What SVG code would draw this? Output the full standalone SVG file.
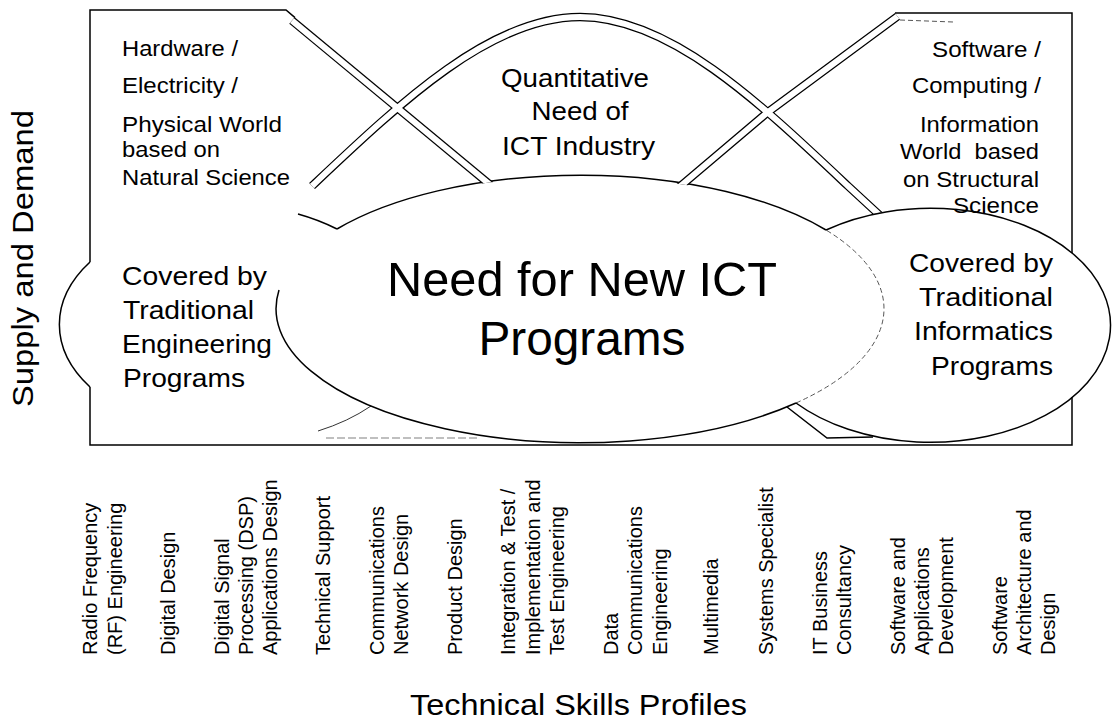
<svg xmlns="http://www.w3.org/2000/svg" width="1116" height="726" viewBox="0 0 1116 726">
<defs>
<style>
text { font-family: "Liberation Sans", Arial, Helvetica, sans-serif; fill: #000; }
.line { fill: none; stroke: #000; stroke-width: 1.5; }
.thin { fill: none; stroke: #333; stroke-width: 1; }
.dash { fill: none; stroke: #555; stroke-width: 1; stroke-dasharray: 5 3; }
.faint { fill: none; stroke: #aaa; stroke-width: 1.4; stroke-dasharray: 8 3; }
.band-o { fill: none; stroke: #000; stroke-width: 8.5; stroke-linejoin: miter; }
.band-i { fill: none; stroke: #fff; stroke-width: 6; stroke-linejoin: miter; }
.side { font-size: 22.5px; }
.lower { font-size: 25px; }
.quant { font-size: 26px; }
.big { font-size: 48px; }
.axis { font-size: 29px; }
.skill { font-size: 20px; }
</style>
<clipPath id="bandClip">
<path clip-rule="evenodd" d="M0 0H1116V726H0Z M277.5 309 A302.5 132.5 0 1 0 882.5 309 A302.5 132.5 0 1 0 277.5 309Z M750 325 A180 117 0 1 0 1110 325 A180 117 0 1 0 750 325Z"/>
</clipPath>
</defs>
<rect x="0" y="0" width="1116" height="726" fill="#fff"/>

<g id="frame">
<path class="line" d="M90 262 V10 H286 L295 17.6"/>
<path class="line" d="M90 387 V445 H1072 V397"/>
<path class="line" d="M1072 253 V13 H895"/>
<path class="dash" d="M900 20 L953 22"/>
<path class="faint" d="M326 438 H480"/>
<path class="line" d="M787 407 L827 438 L873 437"/>
</g>

<g id="left-region">
<path class="line" d="M90 262 A180 112 0 0 0 90 387"/>
<path class="line" d="M298 214 A180 118 0 0 1 337 229"/>
<path class="thin" d="M318 431 A180 118 0 0 0 371 406"/>
<text class="side" x="122" y="56" textLength="116" lengthAdjust="spacingAndGlyphs">Hardware /</text>
<text class="side" x="122" y="93" textLength="116" lengthAdjust="spacingAndGlyphs">Electricity /</text>
<text class="side" x="122" y="131.5" textLength="160" lengthAdjust="spacingAndGlyphs">Physical World</text>
<text class="side" x="122" y="157" textLength="98" lengthAdjust="spacingAndGlyphs">based on</text>
<text class="side" x="122" y="185" textLength="168" lengthAdjust="spacingAndGlyphs">Natural Science</text>
<text class="lower" x="122" y="285" textLength="145" lengthAdjust="spacingAndGlyphs">Covered by</text>
<text class="lower" x="123" y="319.3" textLength="131" lengthAdjust="spacingAndGlyphs">Traditional</text>
<text class="lower" x="122" y="353.3" textLength="150" lengthAdjust="spacingAndGlyphs">Engineering</text>
<text class="lower" x="123" y="386.7" textLength="122" lengthAdjust="spacingAndGlyphs">Programs</text>
</g>

<g id="center-region">
<path class="line" d="M279 290 A304 134 0 0 0 796 403"/>
<path class="dash" d="M796 403 A304 134 0 0 0 826 230"/>
<path class="line" d="M826 230 A304 134 0 0 0 337 229"/>
<text class="big" x="582" y="295.5" text-anchor="middle" textLength="390" lengthAdjust="spacingAndGlyphs">Need for New ICT</text>
<text class="big" x="582" y="355" text-anchor="middle" textLength="207" lengthAdjust="spacingAndGlyphs">Programs</text>
</g>

<g id="connectors" clip-path="url(#bandClip)">
<path class="band-o" d="M312 186 C400 103 490 17 580 17 C670 17 760 103 848 186 L900 234"/>
<path class="band-o" d="M292 20.6 L500 193"/>
<path class="band-o" d="M897.5 16.4 L768 112 L670 195"/>
<path class="band-i" d="M312 186 C400 103 490 17 580 17 C670 17 760 103 848 186 L900 234"/>
<path class="band-i" d="M292 20.6 L500 193"/>
<path class="band-i" d="M897.5 16.4 L768 112 L670 195"/>
</g>

<g id="quantitative-need">
<text class="quant" x="575" y="86.7" text-anchor="middle" textLength="148" lengthAdjust="spacingAndGlyphs">Quantitative</text>
<text class="quant" x="580" y="120" text-anchor="middle" textLength="97" lengthAdjust="spacingAndGlyphs">Need of</text>
<text class="quant" x="578.5" y="155" text-anchor="middle" textLength="153" lengthAdjust="spacingAndGlyphs">ICT Industry</text>
</g>

<g id="right-region">
<path class="line" d="M826 230 A180 117 0 1 1 796 403"/>
<text class="side" x="1041" y="56.7" text-anchor="end" textLength="109" lengthAdjust="spacingAndGlyphs">Software /</text>
<text class="side" x="1041" y="93.3" text-anchor="end" textLength="129" lengthAdjust="spacingAndGlyphs">Computing /</text>
<text class="side" x="1039" y="131.7" text-anchor="end" textLength="119" lengthAdjust="spacingAndGlyphs">Information</text>
<text class="side" x="1039" y="159.3" text-anchor="end" textLength="139" lengthAdjust="spacingAndGlyphs" style="white-space:pre">World  based</text>
<text class="side" x="1039" y="186.7" text-anchor="end" textLength="136" lengthAdjust="spacingAndGlyphs">on Structural</text>
<text class="side" x="1039" y="213.3" text-anchor="end" textLength="86" lengthAdjust="spacingAndGlyphs">Science</text>
<text class="lower" x="1053" y="271.7" text-anchor="end" textLength="144" lengthAdjust="spacingAndGlyphs">Covered by</text>
<text class="lower" x="1053" y="306" text-anchor="end" textLength="134" lengthAdjust="spacingAndGlyphs">Traditional</text>
<text class="lower" x="1053" y="340" text-anchor="end" textLength="139" lengthAdjust="spacingAndGlyphs">Informatics</text>
<text class="lower" x="1053" y="375" text-anchor="end" textLength="122" lengthAdjust="spacingAndGlyphs">Programs</text>
</g>

<g id="axis-y">
<text class="axis" transform="translate(33,258.5) rotate(-90)" x="0" y="0" text-anchor="middle" textLength="297" lengthAdjust="spacingAndGlyphs">Supply and Demand</text>
</g>

<g id="axis-x">
<text class="axis" x="578.5" y="715" text-anchor="middle" textLength="337" lengthAdjust="spacingAndGlyphs">Technical Skills Profiles</text>
</g>

<g id="skills">
<text class="skill" transform="translate(97,655) rotate(-90)">Radio Frequency</text>
<text class="skill" transform="translate(121.5,655) rotate(-90)">(RF) Engineering</text>
<text class="skill" transform="translate(175,655) rotate(-90)">Digital Design</text>
<text class="skill" transform="translate(228.5,655) rotate(-90)">Digital Signal</text>
<text class="skill" transform="translate(252.7,655) rotate(-90)">Processing (DSP)</text>
<text class="skill" transform="translate(276.7,655) rotate(-90)">Applications Design</text>
<text class="skill" transform="translate(330,655) rotate(-90)">Technical Support</text>
<text class="skill" transform="translate(383.5,655) rotate(-90)">Communications</text>
<text class="skill" transform="translate(408,655) rotate(-90)">Network Design</text>
<text class="skill" transform="translate(461.7,655) rotate(-90)">Product Design</text>
<text class="skill" transform="translate(515,655) rotate(-90)">Integration &amp; Test /</text>
<text class="skill" transform="translate(539.5,655) rotate(-90)">Implementation and</text>
<text class="skill" transform="translate(563.5,655) rotate(-90)">Test Engineering</text>
<text class="skill" transform="translate(618.3,655) rotate(-90)">Data</text>
<text class="skill" transform="translate(642,655) rotate(-90)">Communications</text>
<text class="skill" transform="translate(666.5,655) rotate(-90)">Engineering</text>
<text class="skill" transform="translate(718.3,655) rotate(-90)">Multimedia</text>
<text class="skill" transform="translate(773.3,655) rotate(-90)">Systems Specialist</text>
<text class="skill" transform="translate(826.7,655) rotate(-90)">IT Business</text>
<text class="skill" transform="translate(851.3,655) rotate(-90)">Consultancy</text>
<text class="skill" transform="translate(905,655) rotate(-90)">Software and</text>
<text class="skill" transform="translate(929,655) rotate(-90)">Applications</text>
<text class="skill" transform="translate(953.3,655) rotate(-90)">Development</text>
<text class="skill" transform="translate(1007,655) rotate(-90)">Software</text>
<text class="skill" transform="translate(1031,655) rotate(-90)">Architecture and</text>
<text class="skill" transform="translate(1055,655) rotate(-90)">Design</text>
</g>
</svg>
